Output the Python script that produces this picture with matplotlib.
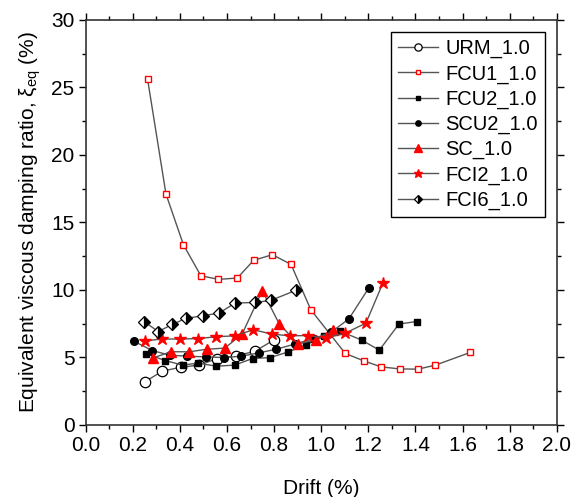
import matplotlib
matplotlib.use("Agg")
import matplotlib.pyplot as plt
from matplotlib.ticker import MultipleLocator

plt.rcParams['font.family'] = ['Liberation Sans', 'DejaVu Sans']
plt.rcParams['mathtext.fontset'] = 'custom'
plt.rcParams['mathtext.rm'] = 'Liberation Sans'

# drift (%) and equivalent viscous damping ratio (%)
urm_x = [0.253, 0.325, 0.405, 0.483, 0.558, 0.638, 0.717, 0.800]
urm_y = [3.21, 3.98, 4.28, 4.43, 4.92, 5.12, 5.44, 6.30]

fcu1_x = [0.263, 0.341, 0.415, 0.489, 0.564, 0.644, 0.713, 0.793, 0.872, 0.956,
          1.102, 1.180, 1.254, 1.333, 1.411, 1.485, 1.633]
fcu1_y = [25.6, 17.1, 13.35, 11.05, 10.78, 10.88, 12.19, 12.61, 11.89, 8.53,
          5.30, 4.75, 4.30, 4.15, 4.13, 4.43, 5.37]

fcu2_x = [0.257, 0.337, 0.412, 0.477, 0.555, 0.632, 0.709, 0.783, 0.857, 0.935,
          1.010, 1.080, 1.172, 1.247, 1.330, 1.405]
fcu2_y = [5.27, 4.77, 4.43, 4.58, 4.35, 4.43, 4.92, 4.99, 5.39, 5.93,
          6.55, 6.95, 6.28, 5.54, 7.47, 7.66]

scu2_x = [0.207, 0.283, 0.356, 0.432, 0.510, 0.588, 0.661, 0.736, 0.810, 0.890,
          0.970, 1.040, 1.117, 1.202]
scu2_y = [6.18, 5.51, 5.17, 5.09, 5.04, 4.99, 5.09, 5.34, 5.61, 6.00,
          6.40, 6.85, 7.84, 10.14]

sc_x = [0.284, 0.362, 0.440, 0.517, 0.591, 0.665, 0.750, 0.822, 0.902, 0.979, 1.052]
sc_y = [4.95, 5.42, 5.42, 5.61, 5.69, 6.75, 9.95, 7.48, 6.00, 6.30, 7.02]

fci2_x = [0.253, 0.324, 0.402, 0.479, 0.555, 0.633, 0.712, 0.790, 0.867, 0.945,
          1.020, 1.100, 1.190, 1.262]
fci2_y = [6.23, 6.36, 6.36, 6.40, 6.53, 6.60, 7.05, 6.73, 6.60, 6.62,
          6.45, 6.78, 7.54, 10.51]

fci6_x = [0.248, 0.308, 0.368, 0.425, 0.499, 0.567, 0.635, 0.720, 0.786, 0.891]
fci6_y = [7.66, 6.92, 7.44, 7.89, 8.09, 8.29, 9.03, 9.07, 9.22, 9.96]

line_col = '#555555'

fig = plt.figure(figsize=(5.71, 4.97), dpi=100)
ax = fig.add_axes([0.150, 0.145, 0.825, 0.815])

ax.plot(urm_x, urm_y, color=line_col, lw=1, marker='o', ms=7.5,
        mfc='white', mec='black', mew=0.9, label='URM_1.0', zorder=3)
ax.plot(fcu1_x, fcu1_y, color=line_col, lw=1, marker='s', ms=5,
        mfc='white', mec='red', mew=1, label='FCU1_1.0', zorder=3)
ax.plot(fcu2_x, fcu2_y, color=line_col, lw=1, marker='s', ms=5,
        mfc='black', mec='black', label='FCU2_1.0', zorder=3)
ax.plot(scu2_x, scu2_y, color=line_col, lw=1, marker='o', ms=5.5,
        mfc='black', mec='black', label='SCU2_1.0', zorder=3)
ax.plot(sc_x, sc_y, color=line_col, lw=1, marker='^', ms=7.5,
        mfc='red', mec='red', label='SC_1.0', zorder=3)
ax.plot(fci2_x, fci2_y, color=line_col, lw=1, marker='*', ms=9,
        mfc='red', mec='red', label='FCI2_1.0', zorder=3)
ax.plot(fci6_x, fci6_y, color=line_col, lw=1, marker='D', ms=6,
        fillstyle='right', mfc='black', mfcalt='white', mec='black', mew=0.9,
        label='FCI6_1.0', zorder=3)

ax.set_xlim(0, 2.0)
ax.set_ylim(0, 30)
ax.xaxis.set_major_locator(MultipleLocator(0.2))
ax.xaxis.set_minor_locator(MultipleLocator(0.1))
ax.yaxis.set_major_locator(MultipleLocator(5))
ax.yaxis.set_minor_locator(MultipleLocator(2.5))
ax.xaxis.set_major_formatter(matplotlib.ticker.FormatStrFormatter('%.1f'))

ax.tick_params(which='both', direction='out', labelsize=15, width=1,
               top=True, right=True, labeltop=False, labelright=False)
ax.tick_params(which='major', length=5, pad=3)
ax.tick_params(which='minor', length=3)
for sp in ax.spines.values():
    sp.set_linewidth(1.2)
    sp.set_color('#333333')

ax.set_xlabel('Drift (%)', fontsize=15, labelpad=17)
ax.set_ylabel(r'Equivalent viscous damping ratio, ξ$_{\mathregular{eq}}$ (%)',
              fontsize=15, labelpad=6)

leg = ax.legend(loc='upper right', bbox_to_anchor=(0.975, 0.97), fontsize=14.5,
                frameon=True, fancybox=False, edgecolor='black', framealpha=1,
                markerscale=0.7, handlelength=2.0, labelspacing=0.3,
                borderpad=0.35, handletextpad=0.35, borderaxespad=0)
leg.get_frame().set_linewidth(1)

plt.savefig('out.png', dpi=100)
